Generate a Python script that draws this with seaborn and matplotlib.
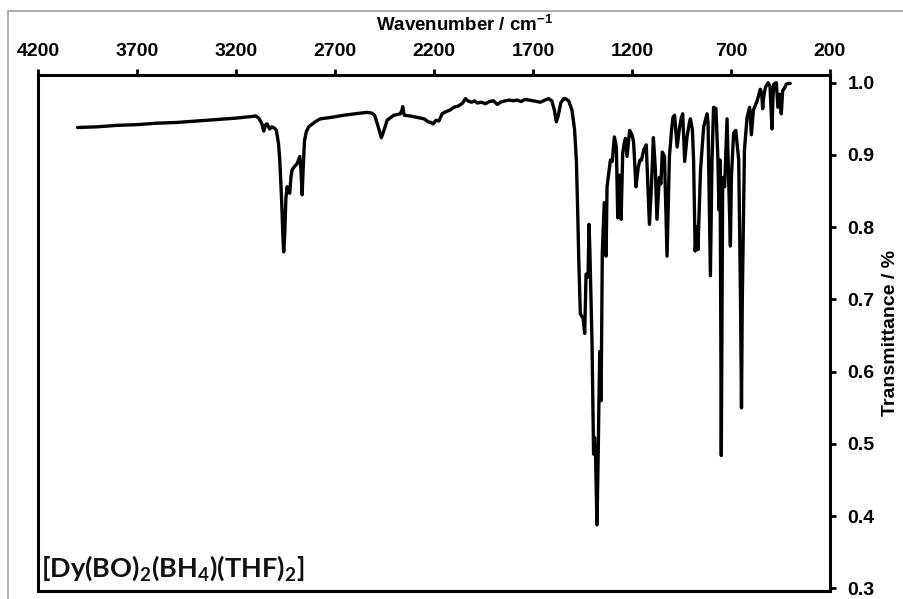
import matplotlib
matplotlib.use("Agg")
import matplotlib.pyplot as plt
import seaborn as sns
import pandas as pd
from matplotlib.lines import Line2D

# ---- data ----
wavenumber = [
    4000, 3900, 3800, 3700, 3600, 3500, 3400, 3300, 3200, 3130, 3100, 3085, 3070, 3060,
    3050, 3043, 3030, 3019, 3005, 2996, 2985, 2979, 2970, 2962, 2959, 2954, 2948, 2942,
    2936, 2929, 2922, 2917, 2905, 2891, 2878, 2872, 2866, 2861, 2854, 2845, 2833, 2800,
    2774, 2720, 2656, 2600, 2538, 2515, 2500, 2485, 2466, 2455, 2437, 2403, 2370, 2362,
    2358, 2354, 2350, 2320, 2285, 2250, 2230, 2215, 2204, 2190, 2175, 2159, 2140, 2120,
    2100, 2075, 2055, 2041, 2030, 2010, 1995, 1982, 1960, 1940, 1920, 1900, 1880, 1865,
    1840, 1820, 1800, 1780, 1760, 1740, 1720, 1700, 1680, 1663, 1640, 1621, 1605, 1592,
    1582, 1572, 1560, 1545, 1537, 1520, 1503, 1490, 1481, 1475, 1469, 1461, 1452, 1447,
    1439, 1432, 1426, 1422, 1417, 1413, 1410, 1402, 1394, 1389, 1384, 1377, 1371, 1367,
    1363, 1356, 1350, 1340, 1331, 1326, 1315, 1309, 1300, 1289, 1279, 1272, 1264, 1255,
    1247, 1240, 1233, 1225, 1212, 1200, 1192, 1180, 1169, 1160, 1152, 1141, 1128, 1112,
    1102, 1092, 1082, 1074, 1062, 1054, 1047, 1036, 1023, 1011, 1000, 993, 985, 972,
    961, 952, 944, 934, 922, 910, 905, 895, 889, 881, 872, 867, 860, 854,
    838, 821, 816, 813, 804, 796, 788, 776, 766, 761, 755, 752, 749, 745,
    742, 732, 720, 712, 703, 698, 687, 676, 661, 652, 647, 643, 640, 632,
    619, 606, 597, 587, 578, 568, 552, 545, 540, 535, 527, 513, 503, 493,
    488, 484, 471, 463, 455, 446, 439, 429, 421, 410, 401,
]
transmittance = [
    0.938, 0.939, 0.941, 0.942, 0.944, 0.945, 0.947, 0.949, 0.951, 0.953, 0.954, 0.951, 0.944, 0.933,
    0.942, 0.943, 0.936, 0.939, 0.937, 0.934, 0.915, 0.893, 0.840, 0.780, 0.766, 0.790, 0.840, 0.856,
    0.852, 0.847, 0.870, 0.879, 0.884, 0.888, 0.898, 0.880, 0.845, 0.880, 0.920, 0.932, 0.939, 0.946,
    0.950, 0.952, 0.955, 0.957, 0.959, 0.958, 0.955, 0.942, 0.924, 0.932, 0.948, 0.955, 0.957, 0.962,
    0.967, 0.960, 0.955, 0.954, 0.952, 0.950, 0.946, 0.945, 0.943, 0.948, 0.947, 0.957, 0.960, 0.962,
    0.966, 0.968, 0.972, 0.978, 0.975, 0.973, 0.975, 0.972, 0.973, 0.971, 0.974, 0.975, 0.970, 0.973,
    0.975, 0.976, 0.975, 0.976, 0.974, 0.977, 0.976, 0.975, 0.974, 0.973, 0.976, 0.978, 0.975, 0.962,
    0.946, 0.955, 0.972, 0.978, 0.978, 0.975, 0.962, 0.935, 0.893, 0.830, 0.756, 0.680, 0.676, 0.674,
    0.653, 0.735, 0.732, 0.731, 0.804, 0.770, 0.733, 0.641, 0.486, 0.509, 0.484, 0.388, 0.480, 0.559,
    0.628, 0.560, 0.765, 0.834, 0.760, 0.856, 0.880, 0.893, 0.891, 0.925, 0.911, 0.813, 0.872, 0.811,
    0.902, 0.915, 0.923, 0.898, 0.934, 0.928, 0.918, 0.856, 0.882, 0.893, 0.893, 0.907, 0.914, 0.804,
    0.856, 0.924, 0.880, 0.811, 0.869, 0.860, 0.904, 0.898, 0.760, 0.898, 0.935, 0.952, 0.955, 0.911,
    0.936, 0.950, 0.957, 0.891, 0.925, 0.945, 0.950, 0.935, 0.893, 0.767, 0.801, 0.769, 0.830, 0.879,
    0.939, 0.957, 0.945, 0.893, 0.733, 0.893, 0.966, 0.964, 0.893, 0.824, 0.893, 0.700, 0.484, 0.700,
    0.869, 0.856, 0.950, 0.869, 0.774, 0.869, 0.930, 0.934, 0.893, 0.700, 0.550, 0.700, 0.756, 0.907,
    0.952, 0.966, 0.928, 0.962, 0.968, 0.975, 0.991, 0.985, 0.964, 0.980, 0.993, 1.000, 0.995, 0.936,
    0.980, 0.998, 1.000, 0.966, 0.984, 0.957, 0.989, 0.993, 0.998, 0.999, 0.999,
]
x_ticks = [4200, 3700, 3200, 2700, 2200, 1700, 1200, 700, 200]
y_ticks = [0.3, 0.4, 0.5, 0.6, 0.7, 0.8, 0.9, 1.0]
x_label = "Wavenumber / cm$^{-1}$"
y_label = "Transmittance / %"
compound = "[Dy(BO)$_2$(BH$_4$)(THF)$_2$]"

df = pd.DataFrame({"w": wavenumber, "T": transmittance})

sns.set_style("white")
plt.rcParams["font.family"] = ["Liberation Sans", "DejaVu Sans"]
plt.rcParams["font.weight"] = "bold"
plt.rcParams["axes.labelweight"] = "bold"
plt.rcParams["axes.labelcolor"] = "black"
plt.rcParams["text.color"] = "black"
plt.rcParams["mathtext.default"] = "regular"

fig = plt.figure(figsize=(9.04, 5.99), dpi=100)
ax = fig.add_axes([38 / 904, 1 - 591 / 599, (830 - 38) / 904, (591 - 75) / 599])

sns.lineplot(data=df, x="w", y="T", ax=ax, color="black", linewidth=2.4,
             estimator=None, sort=True)

ax.set_xlim(4200, 200)
ax.set_ylim(0.2965, 1.0107)
ax.set_xticks(x_ticks)
ax.set_yticks(y_ticks)
ax.set_yticklabels([f"{v:.1f}" for v in y_ticks])
ax.xaxis.tick_top()
ax.yaxis.tick_right()
ax.xaxis.set_label_position("top")
ax.yaxis.set_label_position("right")
ax.tick_params(axis="both", direction="out", length=4.5, width=2.0,
               labelsize=14, colors="black")
ax.tick_params(axis="x", pad=6)
ax.tick_params(axis="y", pad=8)
for lbl in ax.get_xticklabels() + ax.get_yticklabels():
    lbl.set_fontweight("bold")

ax.set_xlabel(x_label, fontsize=13.5, fontweight="bold", color="black")
ax.xaxis.set_label_coords((465 - 38) / 792, 1.0 + 44 / 516)
ax.set_ylabel(y_label, fontsize=14, fontweight="bold", color="black")
ax.yaxis.set_label_coords(1.0 + 52 / 792, 0.5)

for s in ax.spines.values():
    s.set_visible(True)
    s.set_linewidth(2.2)
    s.set_color("black")
ax.grid(False)

ax.text(0.004, 0.016, compound, transform=ax.transAxes, fontsize=19.5,
        family=["Lato", "DejaVu Sans"], fontweight="bold", ha="left", va="bottom",
        color="#111111")

# thin grey frame of the original picture
fig.add_artist(Line2D([8 / 904, 1.0], [1 - 11 / 599, 1 - 11 / 599],
                      transform=fig.transFigure, color="#a0a0a0", linewidth=1.2))
fig.add_artist(Line2D([8 / 904, 8 / 904], [0.0, 1 - 11 / 599],
                      transform=fig.transFigure, color="#a0a0a0", linewidth=1.2))

fig.savefig("out.png", dpi=100)
